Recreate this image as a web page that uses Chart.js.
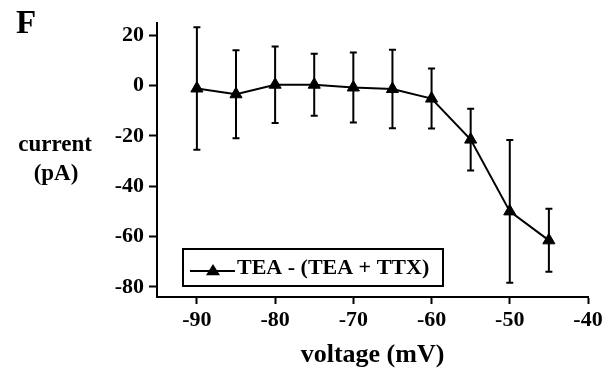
<!DOCTYPE html>
<html>
<head>
<meta charset="utf-8">
<script src="https://cdn.jsdelivr.net/npm/chart.js@4.4.1/dist/chart.umd.min.js"></script>
<style>
  html, body { margin: 0; padding: 0; background: #fff; }
  canvas { display: block; }
</style>
</head>
<body>
<canvas id="c" width="611" height="374" style="width:611px;height:374px"></canvas>
<script>
const voltage = [-90, -85, -80, -75, -70, -65, -60, -55, -50, -45];
const current = [-1.2, -3.5, 0.3, 0.3, -0.8, -1.4, -5.2, -21.5, -50, -61.5];
const errorSEM = [24.3, 17.5, 15.2, 12.3, 13.9, 15.6, 11.9, 12.3, 28.3, 12.5];
const xTicks = [-90, -80, -70, -60, -50, -40];
const yTicks = [20, 0, -20, -40, -60, -80];
const seriesLabel = 'TEA - (TEA + TTX)';
const panelLabel = 'F';
const yTitle = ['current', '(pA)'];
const xTitle = 'voltage (mV)';

const FONT = '"Liberation Serif", "DejaVu Serif", serif';

const errorBars = {
  id: 'errorBars',
  afterDatasetsDraw(chart) {
    const ctx = chart.ctx;
    const xs = chart.scales.x, ys = chart.scales.y;
    ctx.save();
    ctx.strokeStyle = '#000';
    ctx.lineWidth = 2;
    voltage.forEach((v, i) => {
      const px = xs.getPixelForValue(v);
      const top = ys.getPixelForValue(current[i] + errorSEM[i]);
      const bot = ys.getPixelForValue(current[i] - errorSEM[i]);
      ctx.beginPath();
      ctx.moveTo(px, top); ctx.lineTo(px, bot);
      ctx.moveTo(px - 3.5, top); ctx.lineTo(px + 3.5, top);
      ctx.moveTo(px - 3.5, bot); ctx.lineTo(px + 3.5, bot);
      ctx.stroke();
    });
    ctx.restore();
  }
};

const annotations = {
  id: 'annotations',
  afterDraw(chart) {
    const ctx = chart.ctx;
    const xs = chart.scales.x;
    const area = chart.chartArea;
    ctx.save();
    ctx.fillStyle = '#000';
    ctx.textBaseline = 'alphabetic';
    ctx.textAlign = 'left';
    ctx.font = 'bold 33px ' + FONT;
    ctx.fillText(panelLabel, 16, 33);
    ctx.textAlign = 'center';
    ctx.textBaseline = 'middle';
    ctx.font = 'bold 23px ' + FONT;
    ctx.fillText(yTitle[0], 55, 145);
    ctx.fillText(yTitle[1], 56, 174);
    ctx.font = 'bold 26px ' + FONT;
    ctx.fillText(xTitle, (area.left + area.right) / 2 + 0, 355);

    // legend
    const bx = 183, by = 249, bw = 260, bh = 37;
    ctx.lineWidth = 2;
    ctx.strokeStyle = '#000';
    ctx.strokeRect(bx, by, bw, bh);
    const ly = by + 22;
    ctx.beginPath();
    ctx.moveTo(190, ly); ctx.lineTo(235, ly);
    ctx.stroke();
    ctx.beginPath();
    const tx = 213, r = 7;
    ctx.moveTo(tx, ly - r);
    ctx.lineTo(tx + r, ly + r * 0.6);
    ctx.lineTo(tx - r, ly + r * 0.6);
    ctx.closePath();
    ctx.fill();
    ctx.textAlign = 'left';
    ctx.textBaseline = 'middle';
    ctx.font = 'bold 22px ' + FONT;
    ctx.fillText(seriesLabel, 237, by + 19);
    ctx.restore();
  }
};

new Chart(document.getElementById('c'), {
  type: 'line',
  data: {
    datasets: [{
      label: seriesLabel,
      data: voltage.map((v, i) => ({ x: v, y: current[i] })),
      borderColor: '#000',
      backgroundColor: '#000',
      borderWidth: 2,
      pointStyle: 'triangle',
      pointRadius: 7,
      pointBorderWidth: 1,
      tension: 0
    }]
  },
  options: {
    responsive: false,
    animation: false,
    devicePixelRatio: 1,
    layout: { padding: { left: 0, right: 23, top: 23, bottom: 0 } },
    plugins: { legend: { display: false }, tooltip: { enabled: false } },
    scales: {
      x: {
        type: 'linear',
        min: -95.1,
        max: -40,
        afterBuildTicks: s => { s.ticks = xTicks.map(v => ({ value: v })); },
        afterFit: s => { s.height = 77; },
        grid: { drawOnChartArea: false, drawTicks: true, tickLength: 7, tickWidth: 2, tickColor: '#000' },
        border: { display: true, color: '#000', width: 2 },
        ticks: { color: '#000', padding: 3, maxRotation: 0, font: { family: FONT, weight: 'bold', size: 22 } }
      },
      y: {
        type: 'linear',
        min: -84,
        max: 24.8,
        afterBuildTicks: s => { s.ticks = yTicks.map(v => ({ value: v })); },
        afterFit: s => { s.width = 157; },
        grid: { drawOnChartArea: false, drawTicks: true, tickLength: 8, tickWidth: 2, tickColor: '#000' },
        border: { display: true, color: '#000', width: 2 },
        ticks: { color: '#000', padding: 5, font: { family: FONT, weight: 'bold', size: 22 } }
      }
    }
  },
  plugins: [errorBars, annotations]
});
</script>
</body>
</html>
